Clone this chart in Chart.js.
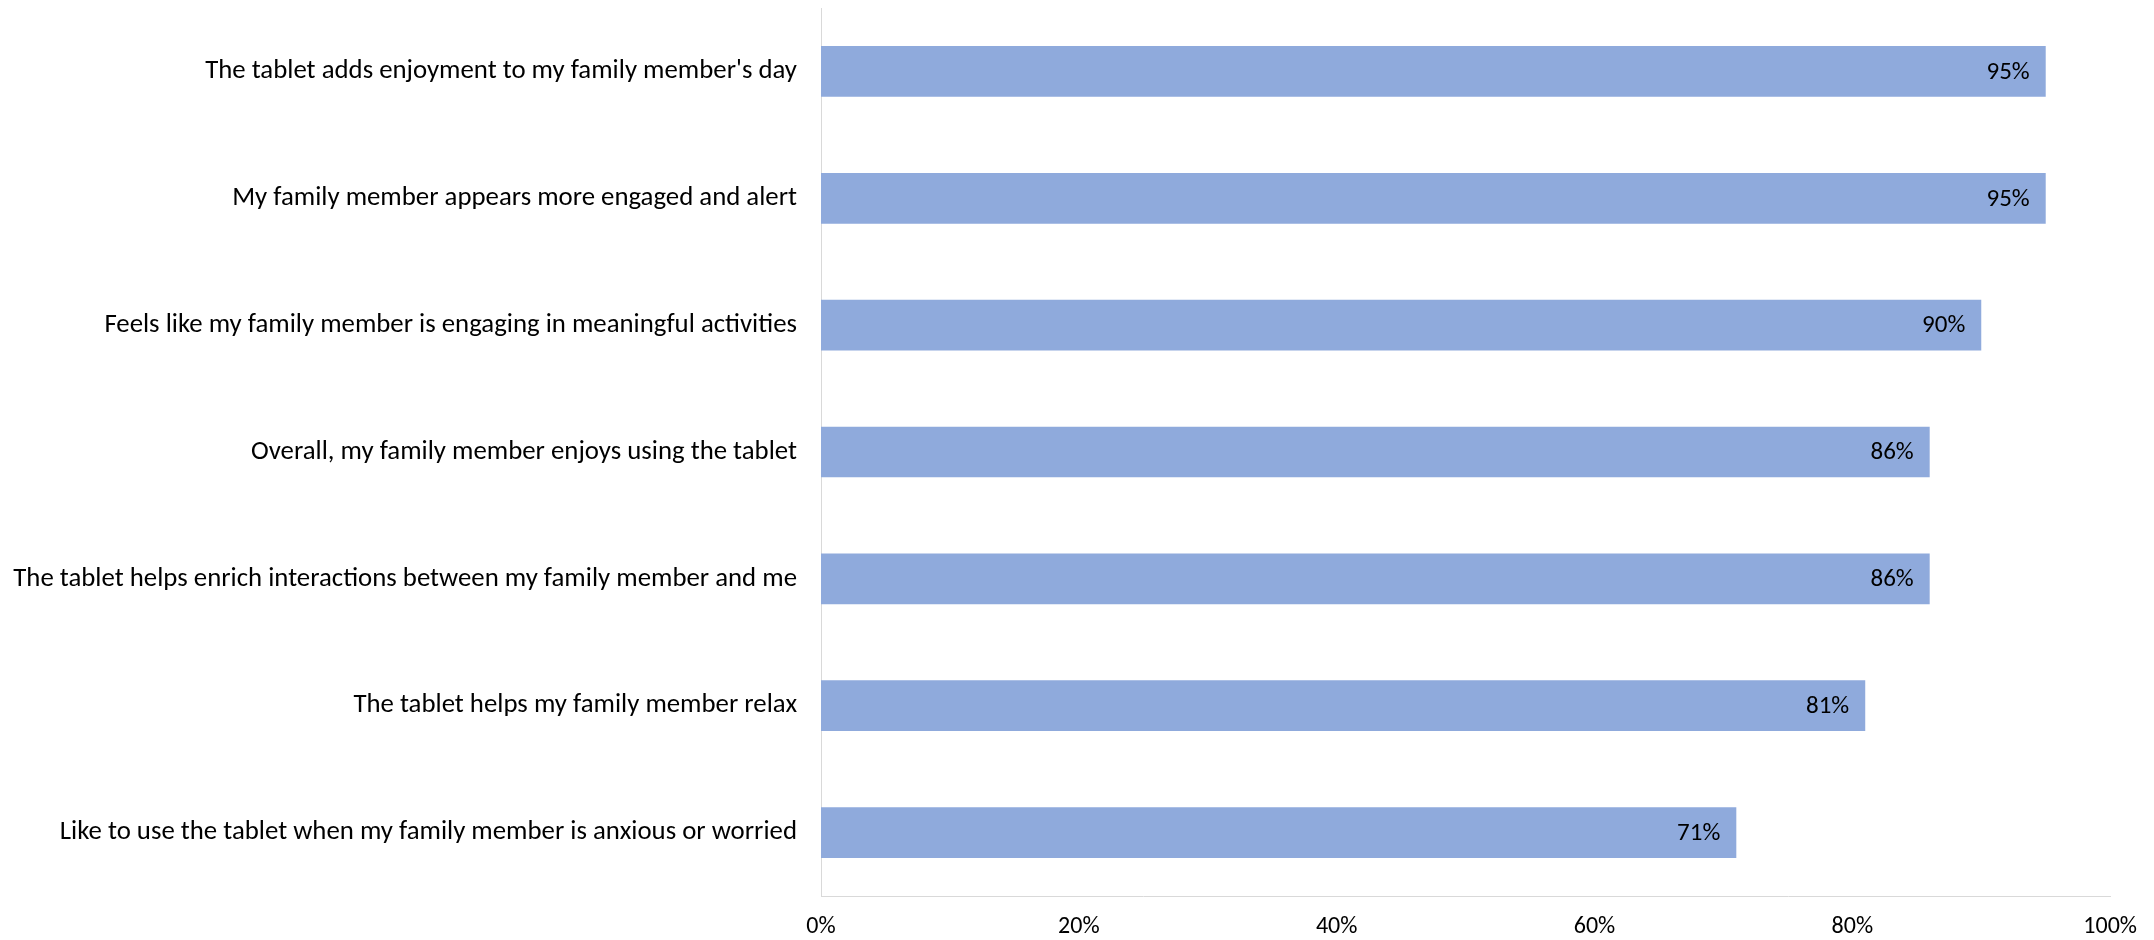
<!DOCTYPE html>
<html>
<head>
<meta charset="utf-8">
<script src="https://cdn.jsdelivr.net/npm/chart.js@4.4.1/dist/chart.umd.min.js"></script>
<style>
  html, body { margin: 0; padding: 0; background: #fff; }
  canvas { display: block; }
</style>
</head>
<body>
<canvas id="chart" width="2154" height="940"></canvas>
<script>
'use strict';

const statements = [
  'The tablet adds enjoyment to my family member\'s day',
  'My family member appears more engaged and alert',
  'Feels like my family member is engaging in meaningful activities',
  'Overall, my family member enjoys using the tablet',
  'The tablet helps enrich interactions between my family member and me',
  'The tablet helps my family member relax',
  'Like to use the tablet when my family member is anxious or worried',
];
const agreeShare = [95, 95, 90, 86, 86, 81, 71];
const axisTicks = [0, 20, 40, 60, 80, 100];

const FONT = 'Carlito, Calibri, Lato, sans-serif';
const CATEGORY_SIZE = 26.8;
const NUMBER_SIZE = 25;
const BAR_BLUE = '#8FAADC';
const AXIS_GREY = '#D9D9D9';

// percentage written just inside the end of each bar
const valueLabels = {
  id: 'valueLabels',
  afterDatasetsDraw(chart) {
    const ctx = chart.ctx;
    const meta = chart.getDatasetMeta(0);
    ctx.save();
    ctx.font = NUMBER_SIZE + 'px ' + FONT;
    ctx.fillStyle = '#000';
    ctx.textAlign = 'right';
    ctx.textBaseline = 'middle';
    meta.data.forEach((bar, i) => {
      ctx.fillText(agreeShare[i] + '%', bar.x - 16, bar.y + 1);
    });
    ctx.restore();
  }
};

let canvasElem = document.getElementById('chart');

new Chart(canvasElem, {
  type: 'bar',
  data: {
    labels: statements,
    datasets: [{
      data: agreeShare,
      backgroundColor: BAR_BLUE,
      borderWidth: 0,
      barPercentage: 0.4,
      categoryPercentage: 1.0,
    }],
  },
  options: {
    indexAxis: 'y',
    responsive: false,
    animation: false,
    layout: {
      padding: { top: 8, right: 41, bottom: 0, left: 0 },
    },
    plugins: {
      legend: { display: false },
      tooltip: { enabled: false },
    },
    scales: {
      x: {
        min: 0,
        max: 100,
        afterBuildTicks: scale => {
          scale.ticks = axisTicks.map(v => ({ value: v }));
        },
        afterFit: scale => { scale.height = 44; },
        grid: { display: false, drawTicks: false },
        border: { display: true, color: AXIS_GREY, width: 1 },
        ticks: {
          padding: 17,
          color: '#000',
          font: { family: FONT, size: 24 },
          maxRotation: 0,
          callback: v => v + '%',
        },
      },
      y: {
        afterFit: scale => {
          // fixed label column; no extra room above/below the bars
          scale.width = 821;
          scale.paddingTop = 0;
          scale.paddingBottom = 0;
        },
        grid: { display: false, drawTicks: false },
        border: { display: true, color: AXIS_GREY, width: 1 },
        ticks: {
          padding: 24,
          color: '#000',
          autoSkip: false,
          font: { family: FONT, size: CATEGORY_SIZE },
        },
      },
    },
  },
  plugins: [valueLabels],
});
</script>
</body>
</html>
